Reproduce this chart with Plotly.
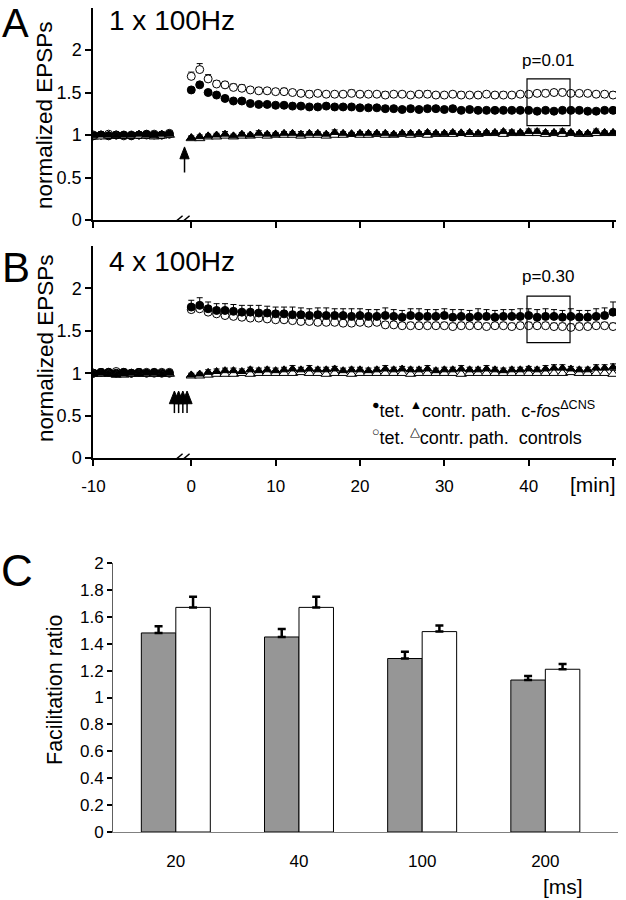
import plotly.graph_objects as go

W, H = 626, 900
FONT = "Liberation Sans, Arial, sans-serif"

# ---------------- data ----------------
base_t = [-10, -9, -8, -7, -6, -5, -4, -3, -2, -1, 0]
post_t = list(range(0, 51))

# Panel A (1 x 100Hz) -- baseline
A_fos_tet_base = [0.99, 1.00, 0.99, 1.00, 1.00, 0.99, 1.00, 1.01, 1.00, 1.00, 1.01]
A_ctl_tet_base = [1.00, 1.00, 1.01, 1.00, 0.99, 1.00, 1.00, 1.00, 1.01, 1.00, 1.02]
A_fos_path_base = [0.99, 1.00, 1.00, 0.99, 1.00, 1.00, 1.01, 1.00, 0.99, 1.01, 1.01]
A_ctl_path_base = [0.98, 0.98, 0.99, 0.99, 0.99, 0.99, 0.99, 0.99, 0.98, 0.99, 1.00]

# Panel A -- after tetanus
A_fos_tet = [1.53, 1.59, 1.50, 1.47, 1.43, 1.40, 1.40, 1.37, 1.36, 1.36,
             1.35, 1.35, 1.34, 1.34, 1.33, 1.33, 1.34, 1.33, 1.33, 1.33,
             1.32, 1.32, 1.32, 1.31, 1.31, 1.30, 1.31, 1.30, 1.31, 1.31,
             1.30, 1.31, 1.29, 1.30, 1.29, 1.29, 1.29, 1.29, 1.29, 1.29,
             1.29, 1.28, 1.29, 1.28, 1.29, 1.29, 1.29, 1.28, 1.28, 1.29,
             1.29]
A_ctl_tet = [1.69, 1.77, 1.66, 1.60, 1.59, 1.56, 1.55, 1.53, 1.52, 1.52,
             1.51, 1.51, 1.50, 1.49, 1.48, 1.49, 1.48, 1.48, 1.48, 1.49,
             1.48, 1.48, 1.48, 1.47, 1.48, 1.48, 1.47, 1.48, 1.48, 1.47,
             1.47, 1.48, 1.47, 1.47, 1.47, 1.48, 1.47, 1.47, 1.47, 1.48,
             1.48, 1.49, 1.49, 1.50, 1.50, 1.49, 1.49, 1.49, 1.48, 1.48,
             1.47]
A_fos_path = [0.97, 0.98, 0.99, 1.00, 1.01, 0.99, 1.01, 1.00, 1.02, 1.01,
              1.01, 1.02, 1.02, 1.01, 1.02, 1.02, 1.01, 1.03, 1.02, 1.01,
              1.02, 1.02, 1.02, 1.02, 1.01, 1.02, 1.02, 1.02, 1.03, 1.02,
              1.02, 1.03, 1.02, 1.03, 1.02, 1.03, 1.03, 1.04, 1.03, 1.03,
              1.04, 1.04, 1.03, 1.03, 1.04, 1.03, 1.02, 1.02, 1.04, 1.03,
              1.03]
A_ctl_path = [0.96, 0.96, 0.98, 0.98, 0.99, 0.98, 0.99, 0.99, 1.00, 0.99,
              1.00, 1.00, 1.00, 0.99, 1.00, 1.00, 0.99, 1.00, 1.00, 1.01,
              1.00, 1.00, 1.01, 1.00, 1.00, 1.01, 1.00, 1.01, 1.00, 1.01,
              1.01, 1.01, 1.02, 1.01, 1.01, 1.02, 1.02, 1.01, 1.02, 1.02,
              1.02, 1.02, 1.01, 1.02, 1.01, 1.02, 1.01, 1.01, 1.02, 1.02,
              1.02]

# Panel A -- SEM (upper bars only)
A_fos_tet_err_base = [0.02, 0.02, 0.02, 0.02, 0.02, 0.02, 0.02, 0.02, 0.02, 0.02, 0.02]
A_ctl_tet_err_base = [0.02, 0.02, 0.02, 0.02, 0.02, 0.02, 0.02, 0.02, 0.02, 0.02, 0.03]
A_path_err_base = [0.02, 0.02, 0.02, 0.02, 0.02, 0.02, 0.02, 0.02, 0.02, 0.02, 0.02]
A_fos_tet_err = [0.03, 0.03, 0.02, 0.02, 0.02, 0.02, 0.02, 0.02, 0.02, 0.02,
                 0.02, 0.02, 0.02, 0.02, 0.02, 0.03, 0.02, 0.02, 0.02, 0.02,
                 0.02, 0.02, 0.02, 0.03, 0.02, 0.02, 0.03, 0.02, 0.03, 0.02,
                 0.02, 0.03, 0.02, 0.02, 0.02, 0.02, 0.02, 0.02, 0.02, 0.02,
                 0.02, 0.02, 0.02, 0.02, 0.02, 0.02, 0.02, 0.02, 0.02, 0.02,
                 0.03]
A_ctl_tet_err = [0.05, 0.07, 0.05, 0.04, 0.04, 0.04, 0.04, 0.03, 0.04, 0.03,
                 0.03, 0.04, 0.03, 0.03, 0.04, 0.03, 0.03, 0.03, 0.03, 0.04,
                 0.03, 0.03, 0.03, 0.04, 0.03, 0.03, 0.03, 0.03, 0.04, 0.03,
                 0.03, 0.03, 0.04, 0.03, 0.03, 0.03, 0.03, 0.04, 0.03, 0.03,
                 0.03, 0.03, 0.04, 0.03, 0.04, 0.03, 0.03, 0.03, 0.03, 0.03,
                 0.04]
A_path_err = [0.02, 0.02, 0.02, 0.02, 0.03, 0.02, 0.02, 0.02, 0.03, 0.02,
              0.02, 0.02, 0.02, 0.03, 0.02, 0.02, 0.02, 0.03, 0.02, 0.02,
              0.02, 0.02, 0.02, 0.02, 0.02, 0.02, 0.02, 0.02, 0.02, 0.02,
              0.02, 0.02, 0.02, 0.02, 0.02, 0.02, 0.02, 0.02, 0.03, 0.02,
              0.03, 0.03, 0.02, 0.02, 0.03, 0.02, 0.02, 0.02, 0.03, 0.02,
              0.02]

# Panel B (4 x 100Hz) -- baseline
B_fos_tet_base = [1.00, 1.01, 1.01, 1.00, 1.01, 1.00, 1.01, 1.00, 1.01, 1.00, 1.00]
B_ctl_tet_base = [1.00, 1.01, 1.01, 1.02, 1.01, 1.00, 1.01, 1.01, 1.00, 1.01, 1.01]
B_fos_path_base = [0.99, 1.00, 0.99, 0.98, 0.99, 1.00, 0.99, 1.00, 1.00, 0.99, 1.00]
B_ctl_path_base = [0.99, 0.99, 0.99, 0.98, 0.98, 0.99, 0.99, 0.99, 0.99, 0.99, 0.99]

# Panel B -- after tetanus
B_fos_tet = [1.78, 1.80, 1.76, 1.74, 1.74, 1.73, 1.72, 1.72, 1.71, 1.71,
             1.70, 1.70, 1.69, 1.69, 1.68, 1.69, 1.68, 1.68, 1.68, 1.67,
             1.68, 1.67, 1.67, 1.68, 1.67, 1.66, 1.68, 1.67, 1.67, 1.67,
             1.68, 1.66, 1.67, 1.66, 1.67, 1.67, 1.66, 1.67, 1.67, 1.67,
             1.68, 1.66, 1.67, 1.67, 1.66, 1.67, 1.66, 1.66, 1.67, 1.68,
             1.72]
B_ctl_tet = [1.75, 1.76, 1.72, 1.70, 1.68, 1.67, 1.66, 1.65, 1.65, 1.64,
             1.63, 1.63, 1.62, 1.61, 1.61, 1.60, 1.60, 1.60, 1.59, 1.59,
             1.60, 1.59, 1.60, 1.57, 1.57, 1.56, 1.56, 1.56, 1.56, 1.56,
             1.56, 1.55, 1.56, 1.56, 1.56, 1.55, 1.56, 1.56, 1.55, 1.56,
             1.56, 1.56, 1.56, 1.55, 1.55, 1.54, 1.55, 1.55, 1.56, 1.56,
             1.55]
B_fos_path = [0.98, 0.99, 1.01, 1.02, 1.03, 1.03, 1.02, 1.04, 1.03, 1.04,
              1.03, 1.04, 1.05, 1.04, 1.05, 1.04, 1.04, 1.05, 1.03, 1.04,
              1.04, 1.03, 1.04, 1.05, 1.04, 1.05, 1.04, 1.04, 1.05, 1.03,
              1.04, 1.04, 1.05, 1.04, 1.04, 1.05, 1.04, 1.03, 1.04, 1.04,
              1.05, 1.04, 1.05, 1.06, 1.06, 1.05, 1.04, 1.04, 1.06, 1.06,
              1.07]
B_ctl_path = [0.97, 0.97, 0.98, 0.99, 0.99, 0.99, 1.00, 0.99, 1.00, 1.00,
              1.00, 1.00, 1.00, 1.01, 1.00, 1.00, 0.99, 1.00, 1.00, 0.99,
              1.00, 1.00, 1.00, 1.00, 1.00, 1.00, 0.99, 1.00, 1.00, 1.00,
              1.00, 1.00, 0.99, 1.00, 1.00, 1.00, 1.00, 1.00, 1.00, 1.00,
              1.00, 1.00, 1.00, 1.00, 1.00, 1.01, 1.00, 1.00, 1.00, 1.00,
              0.99]

# Panel B -- SEM (upper bars only)
B_tet_err_base = [0.02, 0.02, 0.02, 0.02, 0.02, 0.02, 0.02, 0.02, 0.02, 0.02, 0.02]
B_path_err_base = [0.02, 0.02, 0.02, 0.02, 0.02, 0.02, 0.02, 0.02, 0.02, 0.02, 0.02]
B_fos_tet_err = [0.08, 0.09, 0.08, 0.08, 0.08, 0.08, 0.08, 0.08, 0.09, 0.08,
                 0.08, 0.08, 0.09, 0.08, 0.08, 0.08, 0.09, 0.08, 0.08, 0.09,
                 0.08, 0.08, 0.08, 0.09, 0.08, 0.08, 0.08, 0.09, 0.08, 0.08,
                 0.08, 0.09, 0.08, 0.08, 0.09, 0.08, 0.08, 0.08, 0.08, 0.09,
                 0.08, 0.09, 0.09, 0.08, 0.08, 0.09, 0.08, 0.08, 0.09, 0.09,
                 0.12]
B_ctl_tet_err = [0.04, 0.04, 0.04, 0.04, 0.04, 0.04, 0.04, 0.04, 0.04, 0.04,
                 0.04, 0.04, 0.04, 0.04, 0.04, 0.04, 0.04, 0.04, 0.04, 0.04,
                 0.04, 0.04, 0.04, 0.04, 0.04, 0.04, 0.04, 0.04, 0.04, 0.04,
                 0.04, 0.04, 0.04, 0.04, 0.04, 0.04, 0.04, 0.04, 0.04, 0.04,
                 0.04, 0.04, 0.04, 0.04, 0.04, 0.04, 0.04, 0.04, 0.04, 0.04,
                 0.04]
B_path_err = [0.02, 0.02, 0.03, 0.03, 0.03, 0.03, 0.03, 0.03, 0.03, 0.03,
              0.03, 0.03, 0.04, 0.03, 0.04, 0.03, 0.03, 0.03, 0.03, 0.03,
              0.03, 0.03, 0.03, 0.04, 0.03, 0.03, 0.03, 0.03, 0.04, 0.03,
              0.03, 0.03, 0.04, 0.03, 0.03, 0.04, 0.03, 0.03, 0.03, 0.03,
              0.03, 0.03, 0.04, 0.04, 0.04, 0.03, 0.03, 0.03, 0.04, 0.04,
              0.04]

# Tetanus time markers (arrows), in minutes on the broken axis
tet_A = [-0.8]
tet_B = [-2.0, -1.5, -1.0, -0.5]

# Panel C: paired-pulse facilitation
intervals = ["20", "40", "100", "200"]
fos_ratio = [1.48, 1.45, 1.29, 1.13]
fos_err = [0.05, 0.06, 0.05, 0.03]
ctl_ratio = [1.67, 1.67, 1.49, 1.21]
ctl_err = [0.08, 0.08, 0.045, 0.04]

time_ticks = ["-10", "0", "10", "20", "30", "40"]
y_ticks_AB = [0, 0.5, 1, 1.5, 2]


# ---------------- helpers ----------------
def pre_pos(t):
    """Broken time axis: the pre-tetanus baseline segment is compressed."""
    return -11.6 + (t + 10) * 0.9


def px(x):
    return x / W


def py(y):
    return 1 - y / H


fig = go.Figure()


def add_series(xa, ya, base_y, post_y, base_e, post_e, symbol, fill, size):
    x = [pre_pos(t) for t in base_t] + post_t
    y = base_y + post_y
    e = base_e + post_e
    fig.add_trace(go.Scatter(
        x=x, y=y, mode="markers", xaxis=xa, yaxis=ya,
        marker=dict(symbol=symbol, size=size, color=fill,
                    line=dict(color="black", width=1)),
        error_y=dict(type="data", symmetric=False, array=e,
                     arrayminus=[0] * len(e), color="black",
                     thickness=1, width=3),
        showlegend=False, hoverinfo="skip"))


# Panel A
add_series("x", "y", A_ctl_tet_base, A_ctl_tet, A_ctl_tet_err_base, A_ctl_tet_err, "circle", "white", 8)
add_series("x", "y", A_fos_tet_base, A_fos_tet, A_fos_tet_err_base, A_fos_tet_err, "circle", "black", 8)
add_series("x", "y", A_ctl_path_base, A_ctl_path, A_path_err_base, A_path_err, "triangle-up", "white", 9)
add_series("x", "y", A_fos_path_base, A_fos_path, A_path_err_base, A_path_err, "triangle-up", "black", 8)

# Panel B
add_series("x2", "y2", B_ctl_tet_base, B_ctl_tet, B_tet_err_base, B_ctl_tet_err, "circle", "white", 8)
add_series("x2", "y2", B_fos_tet_base, B_fos_tet, B_tet_err_base, B_fos_tet_err, "circle", "black", 8)
add_series("x2", "y2", B_ctl_path_base, B_ctl_path, B_path_err_base, B_path_err, "triangle-up", "white", 9)
add_series("x2", "y2", B_fos_path_base, B_fos_path, B_path_err_base, B_path_err, "triangle-up", "black", 8)

# Panel C
cx = list(range(len(intervals)))
fig.add_trace(go.Bar(
    x=cx, y=fos_ratio, xaxis="x3", yaxis="y3",
    marker=dict(color="#969696", line=dict(color="black", width=1)),
    error_y=dict(type="data", symmetric=False, array=fos_err,
                 arrayminus=[0] * len(fos_err), color="black",
                 thickness=2.5, width=4),
    showlegend=False, hoverinfo="skip"))
fig.add_trace(go.Bar(
    x=cx, y=ctl_ratio, xaxis="x3", yaxis="y3",
    marker=dict(color="white", line=dict(color="black", width=1)),
    error_y=dict(type="data", symmetric=False, array=ctl_err,
                 arrayminus=[0] * len(ctl_err), color="black",
                 thickness=2.5, width=4),
    showlegend=False, hoverinfo="skip"))

# ---------------- axes ----------------
tvals = [pre_pos(-10), 0, 10, 20, 30, 40]
common_x = dict(range=[-11.65, 50.35], tickvals=tvals, ticktext=time_ticks,
                ticks="outside", ticklen=6, tickwidth=1.5, tickcolor="black",
                minor=dict(tickvals=[50], ticks="outside", ticklen=6, tickwidth=1.5,
                           tickcolor="black", showgrid=False),
                showline=True, linecolor="black", linewidth=1.5,
                showgrid=False, zeroline=False, automargin=False,
                tickfont=dict(size=17, color="black", family=FONT))
common_y = dict(range=[0, 2.5], tickvals=y_ticks_AB,
                ticktext=[("%g" % v) for v in y_ticks_AB],
                ticks="outside", ticklen=6, tickwidth=1.5, tickcolor="black",
                showline=True, linecolor="black", linewidth=1.5,
                showgrid=False, zeroline=False, automargin=False,
                tickfont=dict(size=18, color="black", family=FONT))

fig.update_layout(
    template="none",
    width=W, height=H,
    margin=dict(l=0, r=0, t=0, b=0, pad=0, autoexpand=False),
    paper_bgcolor="white", plot_bgcolor="white",
    font=dict(family=FONT, color="black"),
    showlegend=False,
    barmode="group", bargap=0.44, bargroupgap=0,
    xaxis=dict(domain=[px(93), px(616)], anchor="y", showticklabels=False, **common_x),
    yaxis=dict(domain=[py(220), py(7.5)], anchor="x", **common_y),
    xaxis2=dict(domain=[px(93), px(616)], anchor="y2", ticklabelstandoff=6, **common_x),
    yaxis2=dict(domain=[py(458), py(246)], anchor="x2", **common_y),
    xaxis3=dict(domain=[px(113), px(618)], anchor="y3", range=[-0.51, 3.59],
                tickvals=cx, ticktext=intervals, ticks="", ticklabelstandoff=14,
                showline=True, linecolor="#808080", linewidth=1,
                showgrid=False, zeroline=False, automargin=False,
                tickfont=dict(size=17, color="black", family=FONT)),
    yaxis3=dict(domain=[py(832), py(563)], anchor="x3", range=[0, 2], dtick=0.2,
                tickmode="linear", tick0=0,
                ticks="outside", ticklen=5, tickwidth=2, tickcolor="black",
                showline=True, linecolor="#606060", linewidth=1,
                showgrid=False, zeroline=False, automargin=False,
                tickfont=dict(size=17, color="black", family=FONT)),
)

# ---------------- shapes ----------------
shapes = []
for xr, yr in (("x", "y"), ("x2", "y2")):
    for x0, x1 in ((-2.22, -1.03), (-1.39, -0.2)):
        shapes.append(dict(type="line", xref=xr, yref=yr, x0=x0, x1=x1,
                           y0=-0.05, y1=0.05, line=dict(color="black", width=1.5)))
shapes.append(dict(type="rect", xref="x", yref="y", x0=39.8, x1=44.9, y0=1.11, y1=1.66,
                   line=dict(color="black", width=1.2)))
shapes.append(dict(type="rect", xref="x2", yref="y2", x0=39.8, x1=44.9, y0=1.36, y1=1.91,
                   line=dict(color="black", width=1.2)))


def arrow(xr, yr, t, y_head, y_tail, head_h, half_w):
    shapes.append(dict(type="line", xref=xr, yref=yr, x0=t, x1=t,
                       y0=y_tail, y1=y_head - head_h * 0.5,
                       line=dict(color="black", width=1.5)))
    shapes.append(dict(type="path", xref=xr, yref=yr,
                       path="M %g,%g L %g,%g L %g,%g Z" % (t - half_w, y_head - head_h,
                                                          t, y_head,
                                                          t + half_w, y_head - head_h),
                       fillcolor="black", line=dict(color="black", width=1)))


for t in tet_A:
    arrow("x", "y", t, 0.86, 0.56, 0.14, 0.55)
for t in tet_B:
    arrow("x2", "y2", t, 0.79, 0.53, 0.15, 0.6)

fig.update_layout(shapes=shapes)

# ---------------- annotations ----------------
ann = []


def txt(x, y, text, size, xanchor="center", yanchor="middle", angle=0):
    ann.append(dict(x=px(x), y=py(y), xref="paper", yref="paper", text=text,
                    showarrow=False, xanchor=xanchor, yanchor=yanchor,
                    textangle=angle, borderpad=0,
                    font=dict(size=size, color="black", family=FONT)))


txt(15, 0, "A", 40, yanchor="top")
txt(16, 268, "B", 42)
txt(17, 570, "C", 44)
txt(108, 20, "1 x 100Hz", 28, xanchor="left")
txt(108, 261, "4 x 100Hz", 28, xanchor="left")
txt(45, 115, "normalized EPSPs", 22.5, angle=-90)
txt(45, 348, "normalized EPSPs", 22.5, angle=-90)
txt(55, 690, "Facilitation ratio", 21.5, angle=-90)
txt(593, 484, "[min]", 21)
txt(563, 886, "[ms]", 21)

ann.append(dict(x=42.3, y=1.88, xref="x", yref="y", text="p=0.01", showarrow=False,
                font=dict(size=17, color="black", family=FONT)))
ann.append(dict(x=42.3, y=2.14, xref="x2", yref="y2", text="p=0.30", showarrow=False,
                font=dict(size=17, color="black", family=FONT)))

sp = "\u00a0"
txt(371, 410, "<sup>●</sup>tet." + sp + "<sup>▲</sup>contr." + sp + "path." + sp * 2
    + "c-<i>fos</i><sup>ΔCNS</sup>", 18, xanchor="left")
txt(371, 437, "<sup>○</sup>tet." + sp + "<sup>△</sup>contr." + sp + "path." + sp * 2
    + "controls", 18, xanchor="left")

fig.update_layout(annotations=ann)

fig.write_html("out.html",
               config={"displayModeBar": False},
               post_script="document.body.style.margin='0';document.body.style.padding='0';")
